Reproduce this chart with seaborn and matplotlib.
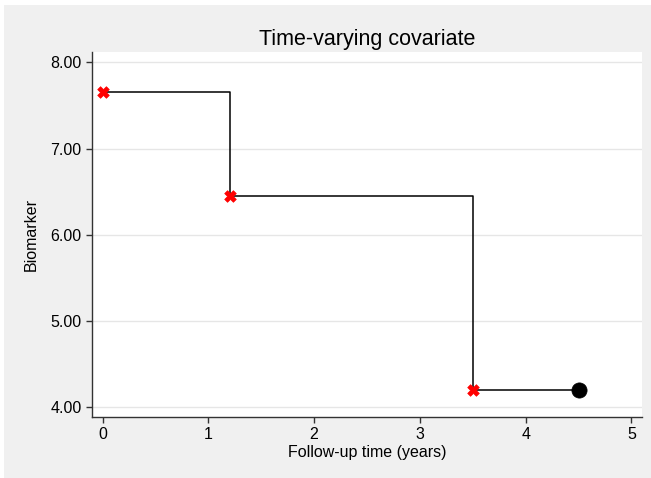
import matplotlib
matplotlib.use("Agg")
import matplotlib.pyplot as plt
import seaborn as sns
import pandas as pd
from matplotlib.patches import Rectangle
from matplotlib.ticker import FormatStrFormatter

# Data
change_times = [0.0, 1.2, 3.5]
biomarker = [7.65, 6.45, 4.2]
end_time = 4.5
x_ticks = [0, 1, 2, 3, 4, 5]
y_ticks = [4, 5, 6, 7, 8]

step_df = pd.DataFrame({"time": change_times + [end_time],
                        "value": biomarker + [biomarker[-1]]})
change_df = pd.DataFrame({"time": change_times, "value": biomarker})
end_df = pd.DataFrame({"time": [end_time], "value": [biomarker[-1]]})

sns.set_theme(style="white")
plt.rcParams['font.family'] = ['Liberation Sans', 'DejaVu Sans']

W, H = 651, 478
fig = plt.figure(figsize=(W / 100, H / 100), dpi=100, facecolor="white")
fig.patches.append(Rectangle((4 / W, 0), 1 - 4 / W, 1 - 5 / H, transform=fig.transFigure,
                             facecolor="#f0f0f0", edgecolor="none", zorder=-10))
ax = fig.add_axes([92 / W, 1 - 417 / H, (642 - 92) / W, (417 - 52) / H])
ax.set_zorder(5)
ax.set_facecolor("white")

sns.lineplot(data=step_df, x="time", y="value", ax=ax, drawstyle="steps-post",
             color="black", linewidth=1.1, zorder=3)
sns.scatterplot(data=change_df, x="time", y="value", ax=ax, marker="X", color="red",
                s=70, edgecolor="red", linewidth=0.5, zorder=4)
sns.scatterplot(data=end_df, x="time", y="value", ax=ax, marker="o", color="black",
                s=120, edgecolor="black", linewidth=0.5, zorder=4)

ax.set_xlim(-0.1, 5.1)
ax.set_ylim(3.884, 8.12)
ax.set_xticks(x_ticks)
ax.set_yticks(y_ticks)
ax.yaxis.set_major_formatter(FormatStrFormatter("%.2f"))
ax.grid(axis="y", color="#e6e6e6", linewidth=1.0)
ax.grid(axis="x", visible=False)
ax.set_axisbelow(True)

for side in ["top", "right"]:
    ax.spines[side].set_visible(False)
for side in ["left", "bottom"]:
    ax.spines[side].set_color("#333333")
    ax.spines[side].set_linewidth(1.0)

ax.tick_params(axis="both", which="major", direction="out", length=4.5, width=1.0,
               color="#333333", labelsize=11.5, labelcolor="black", pad=3,
               left=True, bottom=True)

ax.set_title("Time-varying covariate", fontsize=15.5, color="black", pad=5)
ax.set_xlabel("Follow-up time (years)", fontsize=11.5, color="black", labelpad=2)
ax.set_ylabel("Biomarker", fontsize=11.5, color="black", labelpad=8)

fig.savefig("out.png", dpi=100, facecolor=fig.get_facecolor())
